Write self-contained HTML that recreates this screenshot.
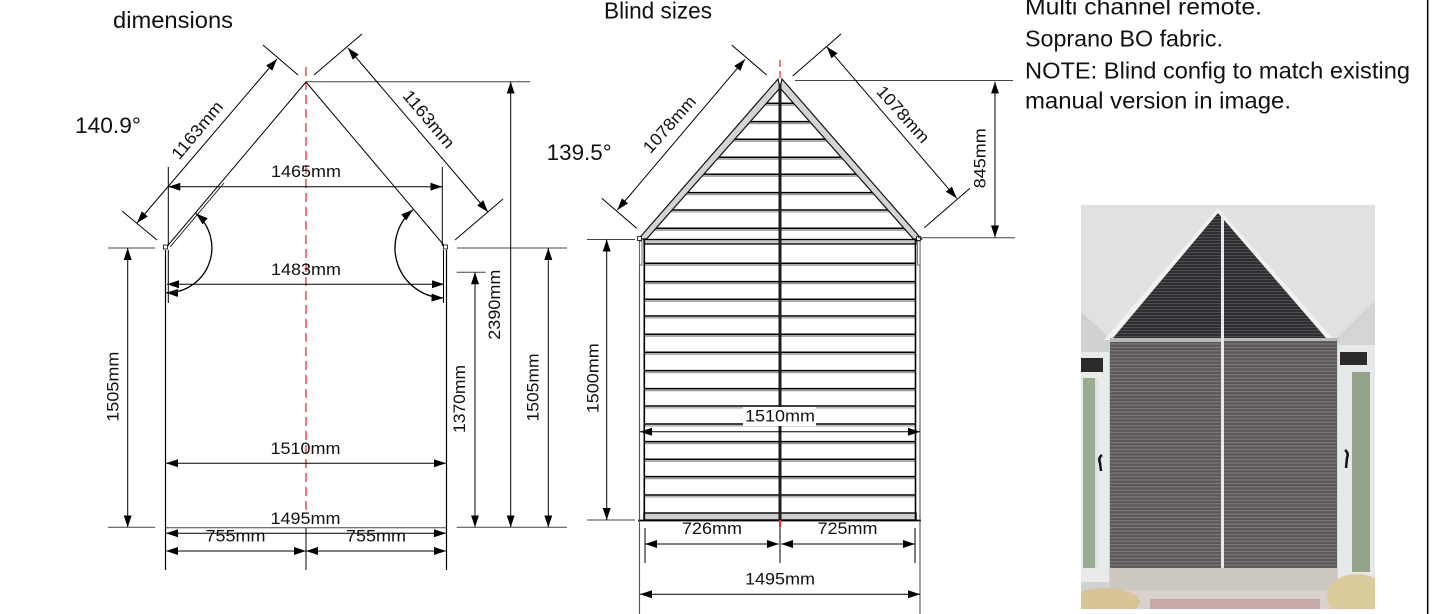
<!DOCTYPE html>
<html>
<head>
<meta charset="utf-8">
<style>
  html,body{margin:0;padding:0;background:#fff;}
  svg{display:block;}
  text{font-family:"Liberation Sans",sans-serif;fill:#111;}
</style>
</head>
<body>
<svg width="1432" height="614" viewBox="0 0 1432 614" xmlns="http://www.w3.org/2000/svg">
  <defs>
    <marker id="a" markerUnits="userSpaceOnUse" markerWidth="13" markerHeight="9" refX="12" refY="4.5" orient="auto-start-reverse" viewBox="0 0 13 9">
      <path d="M0,0.5 L12,4.5 L0,8.5 z" fill="#000"/>
    </marker>
    <pattern id="stL" patternUnits="userSpaceOnUse" width="4" height="3.4">
      <rect width="4" height="3.4" fill="#5b5757"/>
      <rect width="4" height="1.2" fill="#7d7979"/>
    </pattern>
    <pattern id="stD" patternUnits="userSpaceOnUse" width="4" height="3">
      <rect width="4" height="3" fill="#2f2f32"/>
      <rect width="4" height="1" fill="#4d4d51"/>
    </pattern>
    <clipPath id="pc"><rect x="1081" y="205" width="294" height="404"/></clipPath>
  </defs>

  <rect width="1432" height="614" fill="#fff"/>

  <!-- ================= LEFT DIAGRAM ================= -->
  <line x1="306" y1="67" x2="306" y2="510" stroke="#ee4f4f" stroke-width="1.5" stroke-dasharray="9,5"/>

  <g stroke="#000" stroke-width="1" fill="none">
    <line x1="306" y1="82" x2="167" y2="246.5"/>
    <line x1="306" y1="82" x2="445" y2="246.5"/>
    <line x1="170" y1="247" x2="224" y2="183" stroke-width="0.8"/>
    <line x1="307" y1="81.7" x2="530" y2="81.7" stroke="#444"/>
    <!-- 1163 ext lines -->
    <line x1="263" y1="45" x2="298" y2="75"/>
    <line x1="122" y1="211" x2="157" y2="240"/>
    <line x1="314" y1="75" x2="362" y2="34"/>
    <line x1="455" y1="240" x2="503" y2="199"/>
    <!-- 1465 ext -->
    <line x1="168.3" y1="167" x2="168.3" y2="246"/>
    <line x1="442.3" y1="167" x2="442.3" y2="246"/>
    <!-- walls -->
    <line x1="165.5" y1="250" x2="165.5" y2="570" stroke-width="1.2"/>
    <line x1="446.5" y1="250" x2="446.5" y2="570" stroke-width="1.2"/>
    <line x1="168.3" y1="250" x2="168.3" y2="303"/>
    <line x1="443.5" y1="250" x2="443.5" y2="303"/>
    <line x1="306" y1="528" x2="306" y2="570"/>
    <!-- 1505 left ext -->
    <line x1="108" y1="248" x2="155" y2="248" stroke="#444"/>
    <line x1="108" y1="527.3" x2="155" y2="527.3" stroke="#444"/>
    <!-- right ext -->
    <line x1="457" y1="248" x2="567" y2="248" stroke="#444"/>
    <line x1="456.7" y1="272.3" x2="485.7" y2="272.3" stroke="#444"/>
    <line x1="456.7" y1="527.3" x2="567" y2="527.3" stroke="#444"/>
    <line x1="166" y1="527.7" x2="446" y2="527.7" stroke="#444"/>
  </g>
  <rect x="163.5" y="245" width="4" height="4" fill="#fff" stroke="#000" stroke-width="0.8"/>
  <rect x="443.5" y="245" width="4" height="4" fill="#fff" stroke="#000" stroke-width="0.8"/>

  <g stroke="#000" stroke-width="1" fill="none" marker-start="url(#a)" marker-end="url(#a)">
    <line x1="277" y1="59" x2="137" y2="223"/>
    <line x1="348" y1="48" x2="488" y2="212"/>
    <line x1="168.3" y1="186.7" x2="442.3" y2="186.7"/>
    <line x1="167" y1="284.3" x2="444" y2="284.3"/>
    <line x1="127.7" y1="248" x2="127.7" y2="527.3"/>
    <line x1="166" y1="463.3" x2="446" y2="463.3"/>
    <line x1="166" y1="533.3" x2="446" y2="533.3"/>
    <line x1="166" y1="551" x2="306" y2="551"/>
    <line x1="306" y1="551" x2="446" y2="551"/>
    <line x1="475" y1="272.3" x2="475" y2="527.3"/>
    <line x1="510.7" y1="81.7" x2="510.7" y2="527.3"/>
    <line x1="548.3" y1="248" x2="548.3" y2="527.3"/>
    <path d="M196 213.5 A45 45 0 0 1 166 292.8" stroke-width="1.3"/>
    <path d="M412.9 209.7 A50 50 0 0 0 443.5 298" stroke-width="1.3"/>
  </g>

  <text x="113" y="28" font-size="23" textLength="120" lengthAdjust="spacingAndGlyphs">dimensions</text>
  <text x="75" y="133" font-size="22" textLength="66" lengthAdjust="spacingAndGlyphs">140.9°</text>
  <g font-size="17" text-anchor="middle">
    <text x="306" y="177" textLength="70" lengthAdjust="spacingAndGlyphs">1465mm</text>
    <text x="306" y="275" textLength="70" lengthAdjust="spacingAndGlyphs">1483mm</text>
    <text x="305.5" y="454" textLength="70" lengthAdjust="spacingAndGlyphs">1510mm</text>
    <text x="305.5" y="524" textLength="70" lengthAdjust="spacingAndGlyphs">1495mm</text>
    <text x="235.5" y="541.5" textLength="60" lengthAdjust="spacingAndGlyphs">755mm</text>
    <text x="376" y="541.5" textLength="60" lengthAdjust="spacingAndGlyphs">755mm</text>
    <text transform="translate(201.6,133.9) rotate(-50)" textLength="70" lengthAdjust="spacingAndGlyphs">1163mm</text>
    <text transform="translate(424.4,122.9) rotate(50)" textLength="70" lengthAdjust="spacingAndGlyphs">1163mm</text>
    <text transform="translate(118.3,386.7) rotate(-90)" textLength="70" lengthAdjust="spacingAndGlyphs">1505mm</text>
    <text transform="translate(465,399) rotate(-90)" textLength="68" lengthAdjust="spacingAndGlyphs">1370mm</text>
    <text transform="translate(500,304.7) rotate(-90)" textLength="70" lengthAdjust="spacingAndGlyphs">2390mm</text>
    <text transform="translate(538.3,387.5) rotate(-90)" textLength="68" lengthAdjust="spacingAndGlyphs">1505mm</text>
  </g>

  <!-- ================= MIDDLE DIAGRAM ================= -->
  <line x1="780" y1="60" x2="780" y2="78" stroke="#ee4f4f" stroke-width="1.5" stroke-dasharray="7,4"/>

  <!-- triangle slats -->
  <g stroke-width="1.6">
    <g stroke="#000">
      <line x1="766.6" y1="103.3" x2="793.4" y2="103.3"/>
      <line x1="750.3" y1="121.7" x2="809.7" y2="121.7"/>
      <line x1="734.7" y1="139.3" x2="825.3" y2="139.3"/>
      <line x1="718.7" y1="157.3" x2="841.3" y2="157.3"/>
      <line x1="703.6" y1="174.3" x2="856.4" y2="174.3"/>
      <line x1="687.3" y1="192.7" x2="872.7" y2="192.7"/>
      <line x1="672" y1="210" x2="888" y2="210"/>
      <line x1="655.7" y1="228.3" x2="904.3" y2="228.3"/>
    </g>
    <g stroke="#a0a0a0" stroke-width="1.3">
      <line x1="765" y1="105.2" x2="795" y2="105.2"/>
      <line x1="748.6" y1="123.6" x2="811.4" y2="123.6"/>
      <line x1="733" y1="141.2" x2="827" y2="141.2"/>
      <line x1="717" y1="159.2" x2="843" y2="159.2"/>
      <line x1="702" y1="176.2" x2="858" y2="176.2"/>
      <line x1="685.6" y1="194.6" x2="874.4" y2="194.6"/>
      <line x1="670.3" y1="211.9" x2="889.7" y2="211.9"/>
      <line x1="654" y1="230.2" x2="906" y2="230.2"/>
    </g>
  </g>

  <!-- body slats -->
  <g stroke-width="1.6">
    <g stroke="#000">
      <line x1="644" y1="263.3" x2="916" y2="263.3"/>
      <line x1="644" y1="281.7" x2="916" y2="281.7"/>
      <line x1="644" y1="299.3" x2="916" y2="299.3"/>
      <line x1="644" y1="316" x2="916" y2="316"/>
      <line x1="644" y1="334.3" x2="916" y2="334.3"/>
      <line x1="644" y1="352.3" x2="916" y2="352.3"/>
      <line x1="644" y1="370.7" x2="916" y2="370.7"/>
      <line x1="644" y1="388.7" x2="916" y2="388.7"/>
      <line x1="644" y1="406" x2="916" y2="406"/>
      <line x1="644" y1="424" x2="916" y2="424"/>
      <line x1="644" y1="441.7" x2="916" y2="441.7"/>
      <line x1="644" y1="459.3" x2="916" y2="459.3"/>
      <line x1="644" y1="476.7" x2="916" y2="476.7"/>
      <line x1="644" y1="495" x2="916" y2="495"/>
    </g>
    <g stroke="#a0a0a0" stroke-width="1.3">
      <line x1="644" y1="265.2" x2="916" y2="265.2"/>
      <line x1="644" y1="283.6" x2="916" y2="283.6"/>
      <line x1="644" y1="301.2" x2="916" y2="301.2"/>
      <line x1="644" y1="317.9" x2="916" y2="317.9"/>
      <line x1="644" y1="336.2" x2="916" y2="336.2"/>
      <line x1="644" y1="354.2" x2="916" y2="354.2"/>
      <line x1="644" y1="372.6" x2="916" y2="372.6"/>
      <line x1="644" y1="390.6" x2="916" y2="390.6"/>
      <line x1="644" y1="407.9" x2="916" y2="407.9"/>
      <line x1="644" y1="425.9" x2="916" y2="425.9"/>
      <line x1="644" y1="443.6" x2="916" y2="443.6"/>
      <line x1="644" y1="461.2" x2="916" y2="461.2"/>
      <line x1="644" y1="478.6" x2="916" y2="478.6"/>
      <line x1="644" y1="496.9" x2="916" y2="496.9"/>
    </g>
  </g>

  <!-- roof bars -->
  <polygon points="778,79 638.5,239 646.5,239 780,88" fill="#d4d4d4" stroke="#111" stroke-width="1.2"/>
  <polygon points="782,79 921.5,239 913.5,239 780,88" fill="#d4d4d4" stroke="#111" stroke-width="1.2"/>
  <!-- top rail -->
  <rect x="644" y="239.5" width="272" height="4.5" fill="#c8c8c8" stroke="#000" stroke-width="1.3"/>
  <!-- bottom rail -->
  <rect x="644" y="513" width="272" height="7" fill="#cfcfcf" stroke="#000" stroke-width="1.4"/>
  <line x1="638" y1="520.5" x2="921" y2="520.5" stroke="#000" stroke-width="1.8"/>
  <!-- side lines -->
  <line x1="644.3" y1="239" x2="644.3" y2="520" stroke="#000" stroke-width="1.6"/>
  <line x1="915.5" y1="239" x2="915.5" y2="520" stroke="#000" stroke-width="1.6"/>
  <line x1="639.5" y1="241" x2="639.5" y2="614" stroke="#555" stroke-width="1.1"/>
  <line x1="920" y1="241" x2="920" y2="614" stroke="#555" stroke-width="1.1"/>
  <rect x="639.5" y="241" width="2.5" height="24" fill="#fff" stroke="#555" stroke-width="0.8"/>
  <rect x="917.5" y="241" width="2.5" height="24" fill="#fff" stroke="#555" stroke-width="0.8"/>
  <rect x="637.5" y="236.5" width="4" height="4" fill="#fff" stroke="#000" stroke-width="0.8"/>
  <rect x="916.5" y="236.5" width="4" height="4" fill="#fff" stroke="#000" stroke-width="0.8"/>
  <!-- center bar -->
  <line x1="780" y1="84" x2="780" y2="520" stroke="#1e1e1e" stroke-width="3"/>
  <line x1="780" y1="520" x2="780" y2="527" stroke="#d33" stroke-width="2"/>

  <g stroke="#000" stroke-width="1" fill="none">
    <line x1="731.7" y1="45" x2="766.7" y2="75"/>
    <line x1="601.7" y1="198.3" x2="636.7" y2="228.3"/>
    <line x1="792.7" y1="76" x2="841" y2="34"/>
    <line x1="924.3" y1="227.7" x2="970" y2="188.3"/>
    <line x1="795" y1="80.5" x2="1013" y2="80.5" stroke="#444"/>
    <line x1="918" y1="237.7" x2="1015" y2="237.7" stroke="#444"/>
    <line x1="587" y1="239.5" x2="635" y2="239.5" stroke="#444"/>
    <line x1="587" y1="520" x2="635" y2="520" stroke="#444"/>
    <line x1="645" y1="528" x2="645" y2="563"/>
    <line x1="915" y1="528" x2="915" y2="563"/>
    <line x1="780" y1="527" x2="780" y2="563"/>
  </g>

  <!-- 1510 label background -->
  <rect x="743" y="407" width="73" height="19" fill="#fff"/>

  <g stroke="#000" stroke-width="1" fill="none" marker-start="url(#a)" marker-end="url(#a)">
    <line x1="745" y1="59.3" x2="617.3" y2="210"/>
    <line x1="826.7" y1="46.7" x2="956.7" y2="198.3"/>
    <line x1="995" y1="81.7" x2="995" y2="237.5"/>
    <line x1="606.7" y1="239.5" x2="606.7" y2="520"/>
    <line x1="640" y1="431.7" x2="920" y2="431.7"/>
    <line x1="645" y1="544" x2="779" y2="544"/>
    <line x1="781" y1="544" x2="915" y2="544"/>
    <line x1="640" y1="594.3" x2="920" y2="594.3"/>
  </g>

  <text x="604" y="18.5" font-size="23" textLength="108" lengthAdjust="spacingAndGlyphs">Blind sizes</text>
  <text x="546.7" y="160" font-size="22" textLength="65" lengthAdjust="spacingAndGlyphs">139.5°</text>
  <g font-size="17" text-anchor="middle">
    <text transform="translate(673.7,128.2) rotate(-48.3)" textLength="70" lengthAdjust="spacingAndGlyphs">1078mm</text>
    <text transform="translate(898.8,118.2) rotate(48.3)" textLength="70" lengthAdjust="spacingAndGlyphs">1078mm</text>
    <text transform="translate(985.7,158.3) rotate(-90)" textLength="60" lengthAdjust="spacingAndGlyphs">845mm</text>
    <text transform="translate(598.3,378.3) rotate(-90)" textLength="70" lengthAdjust="spacingAndGlyphs">1500mm</text>
    <text x="780" y="421.7" textLength="70" lengthAdjust="spacingAndGlyphs">1510mm</text>
    <text x="712" y="534" textLength="60" lengthAdjust="spacingAndGlyphs">726mm</text>
    <text x="847.5" y="534" textLength="60" lengthAdjust="spacingAndGlyphs">725mm</text>
    <text x="780" y="584.5" textLength="70" lengthAdjust="spacingAndGlyphs">1495mm</text>
  </g>

  <!-- ================= RIGHT TEXT ================= -->
  <g font-size="23">
    <text x="1025" y="14.5" textLength="237" lengthAdjust="spacingAndGlyphs">Multi channel remote.</text>
    <text x="1025" y="46.5" textLength="198" lengthAdjust="spacingAndGlyphs">Soprano BO fabric.</text>
    <text x="1025" y="78.3" textLength="385" lengthAdjust="spacingAndGlyphs">NOTE: Blind config to match existing</text>
    <text x="1025" y="108.5" textLength="266" lengthAdjust="spacingAndGlyphs">manual version in image.</text>
  </g>
  <line x1="1427.7" y1="0" x2="1427.7" y2="614" stroke="#000" stroke-width="1.5"/>

  <!-- ================= PHOTO ================= -->
  <g clip-path="url(#pc)">
    <rect x="1081" y="205" width="294" height="404" fill="#e1e2e0"/>
    <polygon points="1081,312 1110,338 1110,609 1081,609" fill="#cfd2d1"/>
    <polygon points="1375,300 1337,338 1337,609 1375,609" fill="#d2d5d4"/>
    <polygon points="1218,208 1104,340 1334,340" fill="#f0f1f0"/>
    <polygon points="1218,213 1113,338 1326,338" fill="url(#stD)"/>
    <rect x="1110" y="338" width="228" height="4" fill="#b8b8b8"/>
    <rect x="1110" y="342" width="111" height="226" fill="url(#stL)"/>
    <rect x="1224" y="341" width="113" height="229" fill="url(#stL)"/>
    <rect x="1221" y="212" width="3" height="358" fill="#e6eaea"/>
    <!-- left window -->
    <rect x="1081" y="352" width="28" height="230" fill="#e8ebea"/>
    <rect x="1081" y="358" width="22" height="14" fill="#2b2b2b"/>
    <rect x="1083" y="378" width="12" height="190" fill="#9aab8f"/>
    <rect x="1095" y="378" width="3" height="190" fill="#dfe3e2"/>
    <path d="M1102,455 q-4,3 -2,8 l1,8" stroke="#111" stroke-width="2.5" fill="none"/>
    <!-- right window -->
    <rect x="1338" y="345" width="37" height="240" fill="#e6e9e8"/>
    <rect x="1340" y="352" width="27" height="13" fill="#2b2b2b"/>
    <rect x="1352" y="372" width="18" height="200" fill="#95a38a"/>
    <path d="M1345,450 q4,3 2,8 l-1,10" stroke="#111" stroke-width="2.5" fill="none"/>
    <!-- sill & floor -->
    <rect x="1110" y="568" width="227" height="22" fill="#cdc7c2"/>
    <rect x="1081" y="590" width="294" height="19" fill="#d9d1cb"/>
    <rect x="1150" y="599" width="170" height="10" fill="#c8a9a8"/>
    <ellipse cx="1105" cy="602" rx="35" ry="14" fill="#d7c597"/>
    <ellipse cx="1357" cy="596" rx="30" ry="22" fill="#dccb9c"/>
  </g>
</svg>
</body>
</html>
